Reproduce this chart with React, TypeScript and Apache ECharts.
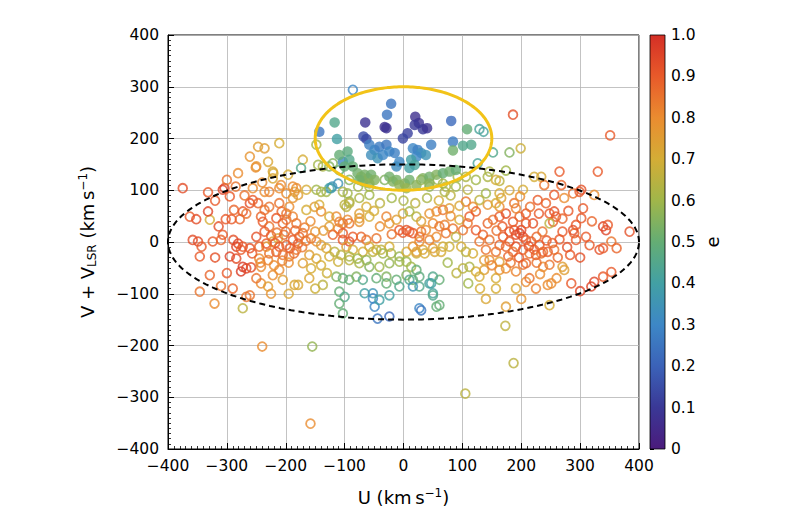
import React, { useEffect, useRef } from "react";
import * as echarts from "echarts";

// [U, V+V_LSR, e] — open circles
const openStars: number[][] = [
  [-375,104,0.93],[-332,96,0.9],[-307,101,0.95],[-304,104,0.95],[-285,107,0.85],[-281,133,0.8],[-251,144,0.8],[-256,104,0.8],[-236,97,0.8],[-228,97,0.82],[-211,104,0.8],[-199,94,0.8],[-185,97,0.75],[-196,130,0.7],[-221,133,0.7],[-222,123,0.72],
  [-363,49,0.9],[-352,44,0.93],[-329,43,0.7],[-332,59,0.95],[-314,30,0.92],[-302,44,0.9],[-292,44,0.9],[-278,44,0.88],[-288,62,0.88],[-273,59,0.9],[-267,55,0.85],[-261,75,0.92],[-256,81,0.9],[-247,75,0.88],[-236,62,0.85],
  [-358,4,0.93],[-349,1,0.93],[-343,-9,0.9],[-346,-28,0.9],[-324,1,0.9],[-310,4,0.88],[-307,14,0.9],[-289,4,0.92],[-281,-3,0.95],[-273,-9,0.9],[-261,-12,0.92],[-284,-9,0.95],[-276,-15,0.9],
  [-295,-28,0.95],[-284,-32,0.93],[-273,-48,0.97],[-276,-57,0.97],[-267,-51,0.95],[-259,-49,0.93],[-329,-64,0.88],[-346,-96,0.85],[-321,-119,0.8],[-267,-106,0.85],[-261,-103,0.85],[-273,-128,0.65],
  [-242,-80,0.8],[-230,-86,0.75],[-222,-64,0.8],[-205,-73,0.75],[-211,-54,0.8],[-242,-48,0.8],[-230,-35,0.82],[-245,-32,0.8],[-233,-9,0.78],[-222,1,0.75],[-213,7,0.72],
  [-242,49,0.88],[-228,68,0.85],[-216,46,0.9],[-207,59,0.88],[-199,43,0.85],[-188,49,0.82],
  [-247,184,0.75],[-236,181,0.75],[-261,165,0.78],[-250,146,0.78],[-222,136,0.72],[-211,191,0.7],[-171,159,0.7],[-174,143,0.45],[-148,188,0.6],[-208,110,0.8],[-182,104,0.8],[-145,149,0.6],[-137,146,0.62],[-126,146,0.55],[-121,107,0.35],[-120,152,0.55],[-109,139,0.5],[-188,107,0.8],[-126,104,0.4],[-92,120,0.55],[-77,107,0.6],[-58,107,0.62],[-32,120,0.55],[-86,294,0.3],
  [-165,62,0.7],[-151,68,0.75],[-143,72,0.7],[-140,59,0.8],[-148,101,0.6],[-140,97,0.62],[-131,97,0.6],[-123,104,0.38],[-111,113,0.35],[-103,97,0.62],[-95,94,0.6],[-92,78,0.6],[-97,68,0.65],[-75,85,0.62],[-58,91,0.6],
  [-126,49,0.7],[-114,49,0.8],[-103,36,0.85],[-126,30,0.75],[-111,26,0.8],[-95,43,0.8],[-75,46,0.75],[-58,49,0.7],
  [-120,14,0.88],[-103,4,0.9],[-92,1,0.92],[-103,17,0.9],[-86,10,0.9],[-72,10,0.88],[-63,4,0.85],[-46,7,0.85],
  [-97,-9,0.75],[-86,-15,0.7],[-69,-19,0.7],[-52,-19,0.65],[-38,-15,0.65],[-24,-9,0.7],
  [-126,-28,0.7],[-111,-38,0.68],[-92,-35,0.65],[-75,-41,0.62],[-58,-48,0.55],[-41,-48,0.6],[-24,-41,0.58],[-7,-38,0.6],
  [-114,-67,0.55],[-103,-70,0.5],[-92,-73,0.5],[-80,-67,0.55],[-69,-73,0.45],[-46,-70,0.5],[-29,-67,0.55],[-12,-73,0.5],
  [-109,-96,0.5],[-100,-106,0.45],[-109,-119,0.5],[-103,-138,0.5],[-66,-99,0.4],[-52,-109,0.3],[-49,-125,0.3],[-44,-148,0.25],[-24,-144,0.22],[-24,-103,0.4],[-7,-86,0.45],
  [-185,-83,0.72],[-179,-83,0.72],[-137,-83,0.65],
  [-218,-2,0.9],[-211,-9,0.9],[-199,-6,0.88],[-188,4,0.9],[-182,-15,0.85],[-177,10,0.88],[-171,17,0.85],[-216,-19,0.9],[-205,-25,0.85],[-194,-28,0.85],[-179,-3,0.9],[-245,-9,0.88],[-233,-3,0.9],[-228,-22,0.85],
  [-157,7,0.85],[-148,1,0.8],[-140,-6,0.75],[-131,-12,0.72],[-160,-25,0.75],[-148,-32,0.72],[-171,-41,0.75],[-157,-51,0.7],
  [-199,55,0.85],[-194,68,0.8],[-188,85,0.78],[-179,91,0.75],[-165,101,0.7],[-211,75,0.85],[-239,39,0.9],[-228,30,0.85],[-205,36,0.88],[-182,36,0.85],
  [-100,72,0.65],[-92,75,0.65],[-75,55,0.75],[-63,68,0.7],[-109,39,0.82],[-92,36,0.85],[-75,39,0.78],
  [-29,49,0.82],[-24,36,0.78],[-12,43,0.75],[-1,55,0.72],[10,59,0.6],[22,49,0.65],[-7,23,0.9],[5,23,0.92],[16,17,0.9],[27,10,0.88],[38,23,0.8],
  [44,55,0.78],[56,59,0.8],[67,62,0.85],[78,65,0.75],
  [-117,-19,0.65],[-106,-25,0.65],[-92,-28,0.62],[-78,-32,0.6],[-63,-35,0.58],
  [-58,-9,0.7],[-46,-15,0.68],[-35,-22,0.6],[-21,-22,0.62],[-7,-28,0.58],[5,-19,0.7],[22,-22,0.68],[33,-15,0.72],[50,-12,0.75],[64,-19,0.7],
  [-29,-80,0.5],[5,-64,0.55],[16,-73,0.5],[27,-86,0.45],[44,-80,0.42],[61,-73,0.5],
  [-52,-99,0.35],[-41,-112,0.4],[27,-128,0.3],[50,-99,0.42],[56,-125,0.5],
  [-1,18,0.9],[10,20,0.9],[30,20,0.85],[50,36,0.8],[61,30,0.85],[70,33,0.82],[84,26,0.85],
  [16,-9,0.78],[22,-19,0.75],[27,1,0.8],[44,4,0.82],[56,10,0.8],[72,17,0.85],[89,10,0.65],[67,-9,0.7],[53,-19,0.72],[36,-22,0.7],[78,-9,0.68],
  [5,-38,0.6],[13,-48,0.6],[22,-54,0.5],[27,-67,0.48],[10,-73,0.45],[16,-86,0.35],[50,-67,0.45],[47,-80,0.4],[50,-103,0.45],[61,-122,0.5],[30,-132,0.25],
  [101,-51,0.65],[112,-48,0.62],[123,-57,0.7],[137,-54,0.75],[157,-70,0.7],[129,-67,0.7],[98,-9,0.7],[106,-19,0.65],[118,-22,0.7],[137,-35,0.75],[146,-35,0.8],[163,-38,0.75],[140,-15,0.85],
  [169,10,0.9],[180,20,0.92],[188,23,0.9],[197,17,0.95],[203,10,0.92],[208,4,0.9],[217,1,0.88],[180,1,0.9],[191,-9,0.92],[174,-9,0.88],[186,-19,0.85],[203,-15,0.9],[214,-22,0.85],[222,-15,0.88],[231,-6,0.9],[191,14,0.93],[200,23,0.95],[208,36,0.9],[220,36,0.92],[163,-6,0.88],[157,-19,0.85],[146,4,0.85],[135,14,0.88],[129,1,0.85],[123,23,0.9],[143,36,0.88],[152,43,0.85],[163,49,0.9],[174,55,0.92],[186,39,0.9],[197,49,0.88],[208,55,0.9],
  [163,68,0.8],[188,75,0.85],[191,65,0.82],[166,85,0.75],[143,72,0.78],[157,75,0.7],[163,94,0.7],[140,94,0.6],[129,81,0.65],
  [106,78,0.85],[118,68,0.8],[123,59,0.88],[112,49,0.9],[95,43,0.7],[109,36,0.85],[101,23,0.85],
  [265,136,0.9],[330,136,0.9],[222,126,0.7],[234,126,0.72],[239,110,0.85],[268,110,0.88],[288,94,0.85],[299,97,0.9],[302,101,0.92],[324,91,0.8],[256,91,0.9],[273,85,0.8],
  [228,81,0.9],[242,75,0.88],[256,59,0.92],[248,55,0.9],[259,49,0.9],[254,39,0.88],[248,36,0.65],
  [302,46,0.9],[293,33,0.9],[290,17,0.88],[293,4,0.9],[270,20,0.9],[288,23,0.92],
  [316,-6,0.9],[333,-15,0.92],[339,-12,0.9],[353,1,0.85],[339,30,0.95],[344,23,0.95],[347,33,0.9],[384,20,0.92],
  [339,-67,0.9],[324,-77,0.95],[319,-86,0.95],[353,-58,0.9],[362,-12,0.88],
  [248,-122,0.7],[245,-83,0.8],[251,-80,0.8],[270,-48,0.75],[273,-54,0.75],[237,-48,0.8],[248,-44,0.85],[234,-22,0.85],[245,-19,0.9],[256,-15,0.85],
  [174,-125,0.75],[157,-90,0.7],[191,-90,0.72],[208,-77,0.8],[214,-70,0.85],
  [163,-54,0.78],[174,-51,0.8],[191,-57,0.82],[203,-44,0.85],[208,-41,0.88],[225,-25,0.9],[237,-19,0.88],
  [186,246,0.92],[351,206,0.9],[199,181,0.68],[180,173,0.55],[152,173,0.45],[126,152,0.42],[146,136,0.62],[174,138,0.6],[163,118,0.65],[203,101,0.7],[106,126,0.62],[92,126,0.6],[67,113,0.6],[70,97,0.62],[129,218,0.42],[136,213,0.42],
  [30,120,0.6],[44,107,0.58],[58,120,0.6],[72,107,0.62],[89,107,0.6],[109,101,0.65],[123,120,0.6],[143,126,0.62],[157,120,0.7],
  [-240,-202,0.8],[-155,-202,0.58],[-158,-351,0.8],[105,-293,0.65],[173,-162,0.66],[187,-234,0.65],
  [-225,12,0.88],[-215,18,0.85],[-203,14,0.87],[-193,-12,0.9],[-186,-22,0.86],[-172,-10,0.84],[-166,2,0.85],[-206,-36,0.83],[-195,-40,0.8],[-236,20,0.9],[-250,10,0.92],[-257,-22,0.9],[-243,-40,0.82],[-220,-45,0.8],[-200,20,0.86],[-184,22,0.88],[-168,28,0.84],[-158,40,0.8],[-150,20,0.78],[-136,22,0.76],
  [178,-28,0.88],[196,-30,0.9],[213,-8,0.92],[226,10,0.88],[236,20,0.85],[243,3,0.9],[253,-2,0.88],[262,-30,0.87],[168,30,0.9],[158,22,0.86],[150,-45,0.82],[182,-40,0.85],[226,-40,0.86],[265,5,0.9],[278,-10,0.92],[283,-25,0.9],[300,-30,0.92],[310,10,0.9],[320,40,0.88],[305,65,0.9],[280,60,0.9],[270,45,0.88],[230,55,0.9],[215,68,0.86],[198,88,0.8],[180,100,0.72],[232,-62,0.8],[260,-70,0.8],[285,-80,0.9],[300,-95,0.95],
  [-40,75,0.65],[-20,85,0.6],[0,80,0.62],[20,75,0.65],[40,85,0.62],[60,80,0.7],[80,90,0.65],[-50,60,0.7],[30,40,0.75],[-40,30,0.8],[-20,15,0.85],[80,50,0.8],[95,70,0.72],
  [-320,80,0.9],[-295,88,0.9],[-270,90,0.85],[-300,120,0.85],[-240,115,0.8],[-230,155,0.72],
  [-320,-30,0.92],[-300,-60,0.9],[-310,-85,0.85],[-290,-90,0.88],[-250,-70,0.85],[-225,-100,0.78],[-195,-100,0.72],[-160,-70,0.72],[-140,-45,0.7],[-130,-60,0.68],[-150,-90,0.68],
  [130,-90,0.7],[110,-80,0.6],[90,-60,0.65],[75,-40,0.6],[140,-110,0.72],[200,-110,0.78],[225,-90,0.82],
];

// [U, V+V_LSR, e] — filled circles
const filledStars: number[][] = [
  [-21,267,0.25],[-28,246,0.25],[-65,231,0.08],[-32,222,0.07],[-29,220,0.08],[20,242,0.07],[26,230,0.08],[33,218,0.1],[40,220,0.08],[19,226,0.1],[7,210,0.12],[-1,200,0.13],[-68,204,0.15],[-63,199,0.14],[81,234,0.22],[-143,213,0.25],[-117,231,0.45],[-113,199,0.4],[47,188,0.28],[84,194,0.27],[84,177,0.52],[108,218,0.5],[101,186,0.45],[115,188,0.45],
  [-58,188,0.28],[-49,178,0.3],[-41,184,0.27],[-29,188,0.25],[-24,175,0.3],[-15,172,0.28],[-55,168,0.33],[-44,162,0.35],[-35,168,0.3],[-7,155,0.3],[-12,146,0.32],
  [16,181,0.3],[24,178,0.28],[30,172,0.33],[38,168,0.35],[22,165,0.3],[13,159,0.4],[19,149,0.42],[10,143,0.4],
  [-103,155,0.3],[-109,168,0.5],[-95,175,0.48],[-92,159,0.45],[-100,146,0.5],[-86,146,0.5],
  [-78,133,0.52],[-72,126,0.55],[-66,130,0.53],[-60,123,0.55],[-55,130,0.52],[-49,120,0.55],[-69,117,0.55],[-58,113,0.56],[-75,120,0.52],
  [-24,126,0.52],[-18,117,0.55],[-12,120,0.53],[-7,110,0.57],[2,113,0.56],[10,120,0.52],[5,104,0.58],[22,110,0.56],
  [33,123,0.55],[44,126,0.52],[56,130,0.55],[67,133,0.5],[78,136,0.52],[89,139,0.5],[44,113,0.56],
];

const xTicks = [-400, -300, -200, -100, 0, 100, 200, 300, 400];
const yTicks = [-400, -300, -200, -100, 0, 100, 200, 300, 400];
const eTicks = [0, 0.1, 0.2, 0.3, 0.4, 0.5, 0.6, 0.7, 0.8, 0.9, 1.0];

// ellipse annotations: [centerU, centerV, semiU, semiV]
const haloEllipse = [0, 0, 400, 150];
const groupEllipse = [0, 200, 150, 100];

const cmapStops: [number, string][] = [
  [0, "#4b1b7c"], [0.1, "#3a3896"], [0.2, "#3b62b8"], [0.3, "#3d87c6"], [0.4, "#42a0a4"],
  [0.5, "#64ad74"], [0.6, "#a0b64a"], [0.7, "#d4ad36"], [0.8, "#ea8c30"], [0.9, "#e85a2a"], [1, "#d42f26"],
];

function hexToRgb(h: string) {
  return [parseInt(h.slice(1, 3), 16), parseInt(h.slice(3, 5), 16), parseInt(h.slice(5, 7), 16)];
}
function cmap(e: number): string {
  const v = Math.max(0, Math.min(1, e));
  for (let i = 0; i < cmapStops.length - 1; i++) {
    const [a, ca] = cmapStops[i];
    const [b, cb] = cmapStops[i + 1];
    if (v >= a && v <= b) {
      const t = (v - a) / (b - a);
      const A = hexToRgb(ca), B = hexToRgb(cb);
      const c = A.map((x, k) => Math.round(x + (B[k] - x) * t));
      return `rgb(${c[0]},${c[1]},${c[2]})`;
    }
  }
  return cmapStops[cmapStops.length - 1][1];
}

function ellipsePoints(p: number[]) {
  const [cx, cy, a, b] = p;
  const pts: number[][] = [];
  for (let i = 0; i <= 240; i++) {
    const t = (i / 240) * Math.PI * 2;
    pts.push([cx + a * Math.cos(t), cy + b * Math.sin(t)]);
  }
  return pts;
}

const fmt = (v: number) => (v < 0 ? "\u2212" + Math.abs(v) : String(v));
const FONT = "DejaVu Sans";

export default function App() {
  const ref = useRef<HTMLDivElement>(null);
  useEffect(() => {
    if (!ref.current) return;
    const chart = echarts.init(ref.current, undefined, { renderer: "svg" });
    const G = { left: 168, top: 35, width: 471, height: 414 };
    const CB = { left: 650, top: 35, width: 15, height: 414 };
    const axisCommon = {
      min: xTicks[0], max: xTicks[xTicks.length - 1], interval: 100,
      axisLine: { show: true, onZero: false, lineStyle: { color: "#000", width: 1 } },
      axisTick: { show: true, inside: true, length: 6, lineStyle: { color: "#000", width: 1 } },
      minorTick: { show: true, splitNumber: 10, length: 3, lineStyle: { color: "#000", width: 0.8 } },
      splitLine: { show: true, lineStyle: { color: "#b4b4b4", width: 0.8 } },
      axisLabel: { color: "#000", fontSize: 15.5, fontFamily: FONT, formatter: fmt, margin: 9 },
      nameLocation: "middle" as const,
    };
    const rich = {
      n: { fontSize: 18, fontFamily: FONT, color: "#000" },
      sup: { fontSize: 12, fontFamily: FONT, color: "#000", padding: [0, 0, 9, 0] },
      sub: { fontSize: 12, fontFamily: FONT, color: "#000", padding: [8, 0, 0, 0] },
    };
    chart.setOption({
      animation: false,
      backgroundColor: "#fff",
      grid: [
        { ...G, show: true, borderColor: "#000", borderWidth: 1, backgroundColor: "transparent" },
        { ...CB },
      ],
      xAxis: [
        {
          ...axisCommon, type: "value", gridIndex: 0,
          name: "{n|U (km\u2009s}{sup|\u22121}{n|)}", nameGap: 38,
          nameTextStyle: { rich },
        },
        { type: "value", gridIndex: 1, show: false, min: 0, max: 1 },
      ],
      yAxis: [
        {
          ...axisCommon, type: "value", gridIndex: 0, min: yTicks[0], max: yTicks[yTicks.length - 1],
          name: "{n|V + V}{sub|LSR}{n| (km\u2009s}{sup|\u22121}{n|)}", nameGap: 70,
          nameTextStyle: { rich },
        },
        {
          type: "value", gridIndex: 1, position: "right", min: eTicks[0], max: eTicks[eTicks.length - 1], interval: 0.1,
          axisLine: { show: false },
          axisTick: { show: true, inside: false, length: 4, lineStyle: { color: "#000", width: 1 } },
          splitLine: { show: false },
          axisLabel: {
            color: "#000", fontSize: 15.5, fontFamily: FONT, margin: 6,
            formatter: (v: number) => (v === 0 ? "0" : v.toFixed(1)),
          },
          name: "e", nameLocation: "middle", nameGap: 38, nameRotate: 90,
          nameTextStyle: { color: "#000", fontSize: 18, fontFamily: FONT },
        },
      ],
      graphic: [
        {
          type: "rect", z: 10,
          shape: { x: CB.left, y: CB.top, width: CB.width, height: CB.height },
          style: {
            fill: new echarts.graphic.LinearGradient(0, 0, 0, 1,
              cmapStops.slice().reverse().map(([o, c]) => ({ offset: 1 - o, color: c }))),
            stroke: "#000", lineWidth: 0.8,
          },
        },
      ],
      series: [
        {
          type: "scatter", xAxisIndex: 0, yAxisIndex: 0, symbol: "circle", symbolSize: 8.8, z: 3,
          data: openStars.map((d) => ({
            value: d,
            itemStyle: { color: "rgba(0,0,0,0)", borderColor: cmap(d[2]), borderWidth: 1.8 },
          })),
        },
        {
          type: "scatter", xAxisIndex: 0, yAxisIndex: 0, symbol: "circle", symbolSize: 10.5, z: 4,
          data: filledStars.map((d) => ({
            value: d,
            itemStyle: { color: cmap(d[2]), borderWidth: 0 },
          })),
        },
        {
          type: "line", xAxisIndex: 0, yAxisIndex: 0, showSymbol: false, z: 5, silent: true,
          data: ellipsePoints(haloEllipse),
          lineStyle: { color: "#000", width: 2, type: [6, 4] },
        },
        {
          type: "line", xAxisIndex: 0, yAxisIndex: 0, showSymbol: false, z: 5, silent: true,
          data: ellipsePoints(groupEllipse),
          lineStyle: { color: "#f2c318", width: 3 },
        },
        { type: "scatter", xAxisIndex: 1, yAxisIndex: 1, data: [] },
      ],
    });
    return () => chart.dispose();
  }, []);
  return (
    <div
      ref={ref}
      style={{ position: "fixed", left: 0, top: 0, width: 800, height: 530, background: "#fff" }}
    />
  );
}
